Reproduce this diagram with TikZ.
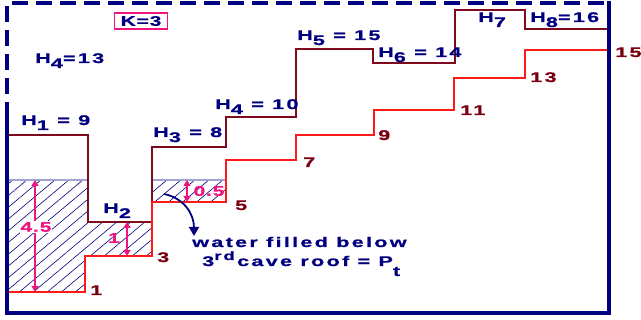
\documentclass[tikz,border=0pt]{standalone}
\usepackage{fontspec}
\newfontfamily\lblfont{Liberation Sans}[FakeStretch=1.55,LetterSpace=16,FakeBold=0.8]
\newfontfamily\dimfont{Liberation Sans}[FakeStretch=1.5,LetterSpace=6,FakeBold=0.6]
\usetikzlibrary{arrows.meta,patterns.meta}
\definecolor{navy}{HTML}{00007F}
\definecolor{roofc}{HTML}{7F0A1E}
\definecolor{floorc}{HTML}{FF1A1A}
\definecolor{flab}{HTML}{7A0010}
\definecolor{pinkc}{HTML}{F0147E}
\definecolor{surf}{HTML}{A3A3D3}
\newcommand\sub[1]{\raisebox{-5pt}{#1}}
\tikzset{
  frame/.style={draw=navy,line width=4pt},
  dframe/.style={frame,dash pattern=on 16pt off 8pt},
  roof/.style={draw=roofc,line width=2.8pt},
  floorln/.style={draw=floorc,line width=2.8pt},
  water/.style={pattern={Lines[angle=40,distance=9pt,line width=0.6pt]},pattern color=navy},
  surfln/.style={draw=surf,line width=1.2pt},
  txt/.style={font=\lblfont\bfseries\fontsize{14}{16}\selectfont,inner sep=0pt,anchor=base west},
  hlbl/.style={txt,text=navy},
  flbl/.style={txt,text=flab},
  dimlbl/.style={font=\dimfont\bfseries\fontsize{14}{16}\selectfont,text=pinkc,inner sep=1pt},
  dim/.style={{Triangle[length=6pt,width=7pt]}-{Triangle[length=6pt,width=7pt]},draw=pinkc,line width=2pt},
  keybox/.style={draw=pinkc,line width=1.6pt,text=navy,inner xsep=6pt,inner ysep=3pt,
    font=\dimfont\bfseries\fontsize{14}{16}\selectfont},
  notearrow/.style={-{Triangle[length=9pt,width=10pt]},draw=navy,line width=1.8pt}
}
\begin{document}
\begin{tikzpicture}[x=1pt,y=-1pt]
  \useasboundingbox (0,0) rectangle (641,320);
  % water under the roofs
  \fill[water] (7,180) -- (88,180) -- (88,222) -- (152,222) -- (152,256)
    -- (85,256) -- (85,292) -- (7,292) -- cycle;
  \fill[water] (152,180) -- (226,180) -- (226,202) -- (152,202) -- cycle;
  \draw[surfln] (7,180) -- (88,180);
  \draw[surfln] (152,180) -- (226,180);
  % cave roofs
  \draw[roof] (7,135) -- (88,135) -- (88,222) -- (152,222) -- (152,147) -- (226,147)
    -- (226,117) -- (296,117) -- (296,49) -- (373,49) -- (373,63) -- (455,63)
    -- (455,10) -- (525,10) -- (525,29) -- (609,29);
  % cave floor
  \draw[floorln] (7,292) -- (85,292) -- (85,256) -- (152,256) -- (152,202) -- (226,202)
    -- (226,160) -- (296,160) -- (296,135) -- (374,135) -- (374,110) -- (454,110)
    -- (454,78) -- (525,78) -- (525,50) -- (609,50);
  % frame
  \draw[dframe] (7,118) -- (7,3) -- (609,3);
  \draw[frame] (7,118) -- (7,313) -- (609,313) -- (609,1);
  % roof heights
  \node[keybox] (kval) at (141,21) {K=3};
  \node[hlbl] (h4b) at (35,63) {H\sub{4}=13};
  \node[hlbl] (h1) at (21,125) {H\sub{1} = 9};
  \node[hlbl] (h2) at (103,213) {H\sub{2}};
  \node[hlbl] (h3) at (153,137) {H\sub{3} = 8};
  \node[hlbl] (h4) at (215,109) {H\sub{4} = 10};
  \node[hlbl] (h5) at (297,40) {H\sub{5} = 15};
  \node[hlbl] (h6) at (378,57) {H\sub{6} = 14};
  \node[hlbl] (h7) at (478,22) {H\sub{7}};
  \node[hlbl] (h8) at (530,22) {H\sub{8}=16};
  % floor heights
  \foreach \n/\x/\y in {1/90/295,3/157/262,5/235/210,7/303/167,9/378/140,
    11/460/115,13/530/82,15/615/57}{
    \node[flbl] (f\n) at (\x,\y) {\n};}
  % water depths
  \coordinate (da) at (35,180);
  \coordinate (db) at (35,292);
  \coordinate (dc) at (127,222);
  \coordinate (dd) at (127,256);
  \coordinate (de) at (187,180);
  \coordinate (df) at (187,202);
  \draw[dim] (da) -- (db);
  \node[dimlbl,fill=white] (wa) at (36,227) {4.5};
  \draw[dim] (dc) -- (dd);
  \node[dimlbl] (wb) at (114,238) {1};
  \draw[dim] (de) -- (df);
  \node[dimlbl] (wc) at (209,191) {0.5};
  % note
  \coordinate (cs) at (164,194);
  \coordinate (ce) at (194,236);
  \draw[notearrow] (cs) .. controls (184,198) and (194,214) .. (ce);
  \node[hlbl] (n1) at (192,247) {water filled below};
  \node[hlbl] (n2) at (202,266) {3\raisebox{6pt}{\fontsize{12}{14}\selectfont rd}\,cave roof = P\raisebox{-10pt}{t}};
\end{tikzpicture}
\end{document}
